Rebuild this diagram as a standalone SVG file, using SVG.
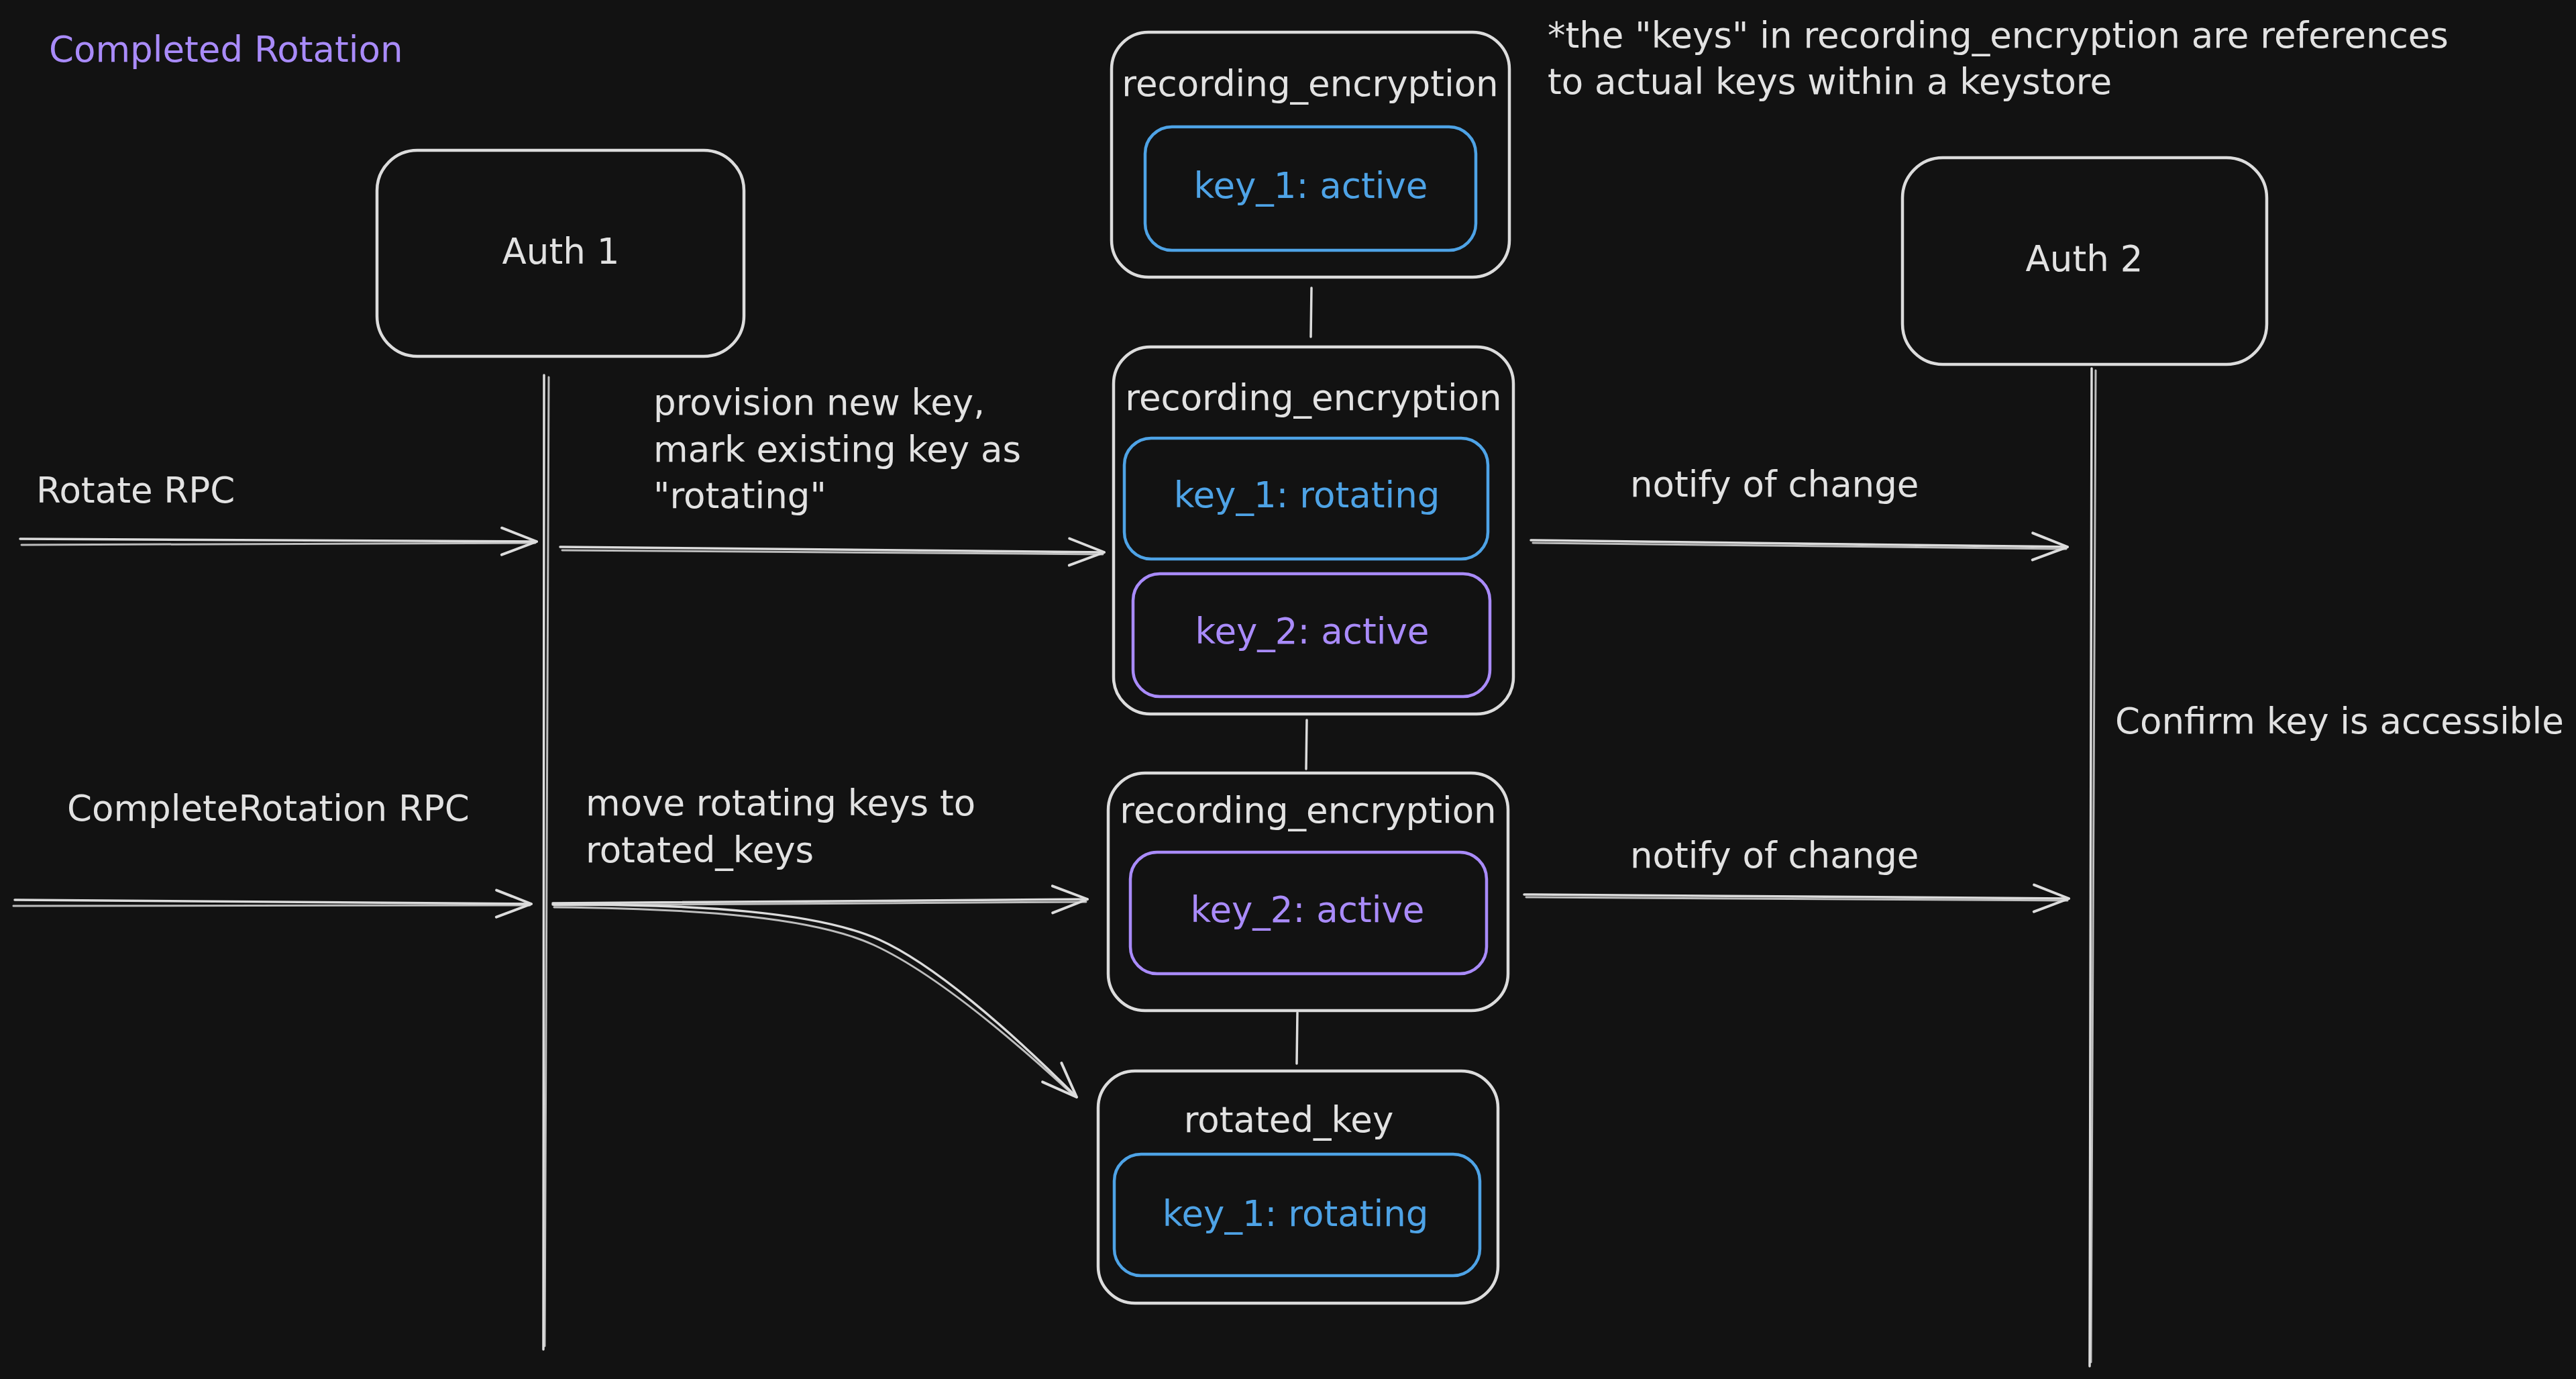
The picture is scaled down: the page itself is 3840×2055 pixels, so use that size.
<svg xmlns="http://www.w3.org/2000/svg" width="3840" height="2055" viewBox="0 0 3840 2055">
<defs>
<style>
.bg{fill:#121212}
.box{fill:#121212;stroke:#dcdcdc;stroke-width:4.5}
.bk{fill:#121212;stroke:#4ea3e6;stroke-width:4.5}
.pk{fill:#121212;stroke:#a98bfa;stroke-width:4.5}
.ln{fill:none;stroke:#dcdcdc;stroke-width:3.5;stroke-linecap:round}
.ln2{fill:none;stroke:#dcdcdc;stroke-width:3;stroke-linecap:round;opacity:0.85}
.t{font-family:"DejaVu Sans","Liberation Sans",sans-serif;font-size:53px;fill:#e2e2e2}
.c{text-anchor:middle}
.tb{fill:#4ea3e6}
.tp{fill:#a98bfa}
</style>
<marker id="ah" markerUnits="userSpaceOnUse" markerWidth="1" markerHeight="1" refX="0" refY="0" orient="auto" overflow="visible">
<path d="M -52 -20 L 0 0 L -52 20" fill="none" stroke="#dcdcdc" stroke-width="4" stroke-linecap="round" stroke-linejoin="round"/>
</marker>
</defs>
<rect class="bg" x="0" y="0" width="3840" height="2055"/>

<g id="title">
<text class="t tp" x="73" y="92">Completed Rotation</text>
</g>

<g id="note">
<text class="t" x="2307" y="71">*the "keys" in recording_encryption are references</text>
<text class="t" x="2307" y="140">to actual keys within a keystore</text>
</g>

<g id="connectors">
<!-- lifelines -->
<path class="ln" d="M 811 559 L 810 2011"/>
<path class="ln2" d="M 818 562 L 812 2006"/>
<path class="ln" d="M 3118 549 L 3115 2036"/>
<path class="ln2" d="M 3124 552 L 3117 2030"/>
<!-- box links -->
<path class="ln" d="M 1955 429 L 1954 502"/>
<path class="ln" d="M 1948 1073 L 1947 1146"/>
<path class="ln" d="M 1934 1509 L 1933 1585"/>
<!-- Rotate RPC -->
<path class="ln" d="M 30 803 L 800 807" marker-end="url(#ah)"/>
<path class="ln2" d="M 32 812 L 798 809"/>
<!-- provision -->
<path class="ln" d="M 835 815 L 1646 823" marker-end="url(#ah)"/>
<path class="ln2" d="M 838 820 L 1644 826"/>
<!-- CompleteRotation RPC -->
<path class="ln" d="M 22 1341 L 792 1347" marker-end="url(#ah)"/>
<path class="ln2" d="M 20 1350 L 790 1349"/>
<!-- move rotating keys -->
<path class="ln" d="M 824 1346 L 1621 1340" marker-end="url(#ah)"/>
<path class="ln2" d="M 826 1349 L 1619 1344"/>
<!-- to rotated_key -->
<path class="ln" d="M 824 1348 C 1050 1347, 1220 1360, 1310 1400 C 1390 1436, 1500 1530, 1605 1635" marker-end="url(#ah)"/>
<path class="ln2" d="M 826 1352 C 1050 1354, 1215 1368, 1302 1408 C 1385 1446, 1495 1535, 1600 1632"/>
<!-- notify 1 -->
<path class="ln" d="M 2282 805 L 3082 815" marker-end="url(#ah)"/>
<path class="ln2" d="M 2285 809 L 3080 818"/>
<!-- notify 2 -->
<path class="ln" d="M 2272 1333 L 3084 1339" marker-end="url(#ah)"/>
<path class="ln2" d="M 2275 1337 L 3082 1342"/>
</g>

<g id="auth1">
<rect class="box" x="562" y="224" width="547" height="307" rx="60"/>
<text class="t c" x="836" y="393">Auth 1</text>
</g>

<g id="auth2">
<rect class="box" x="2836" y="235" width="543" height="308" rx="60"/>
<text class="t c" x="3107" y="404">Auth 2</text>
</g>

<g id="enc1">
<rect class="box" x="1657" y="48" width="593" height="365" rx="55"/>
<text class="t c" x="1953" y="143">recording_encryption</text>
<rect class="bk" x="1707" y="189" width="493" height="184" rx="40"/>
<text class="t c tb" x="1954" y="295">key_1: active</text>
</g>

<g id="enc2">
<rect class="box" x="1660" y="517" width="596" height="547" rx="55"/>
<text class="t c" x="1958" y="611">recording_encryption</text>
<rect class="bk" x="1676" y="653" width="542" height="180" rx="40"/>
<text class="t c tb" x="1948" y="756">key_1: rotating</text>
<rect class="pk" x="1689" y="855" width="532" height="183" rx="40"/>
<text class="t c tp" x="1956" y="959">key_2: active</text>
</g>

<g id="enc3">
<rect class="box" x="1652" y="1152" width="596" height="354" rx="55"/>
<text class="t c" x="1950" y="1226">recording_encryption</text>
<rect class="pk" x="1685" y="1270" width="531" height="181" rx="40"/>
<text class="t c tp" x="1949" y="1374">key_2: active</text>
</g>

<g id="rotated">
<rect class="box" x="1637" y="1596" width="596" height="346" rx="55"/>
<text class="t c" x="1921" y="1687">rotated_key</text>
<rect class="bk" x="1661" y="1720" width="545" height="181" rx="40"/>
<text class="t c tb" x="1931" y="1827">key_1: rotating</text>
</g>

<g id="labels">
<text class="t" x="54" y="749">Rotate RPC</text>
<text class="t" x="974" y="618">provision new key,</text>
<text class="t" x="974" y="688">mark existing key as</text>
<text class="t" x="974" y="757">"rotating"</text>
<text class="t" x="100" y="1223">CompleteRotation RPC</text>
<text class="t" x="873" y="1215">move rotating keys to</text>
<text class="t" x="873" y="1285">rotated_keys</text>
<text class="t" x="2430" y="740">notify of change</text>
<text class="t" x="2430" y="1293">notify of change</text>
<text class="t" x="3153" y="1093">Confirm key is accessible</text>
</g>
</svg>
